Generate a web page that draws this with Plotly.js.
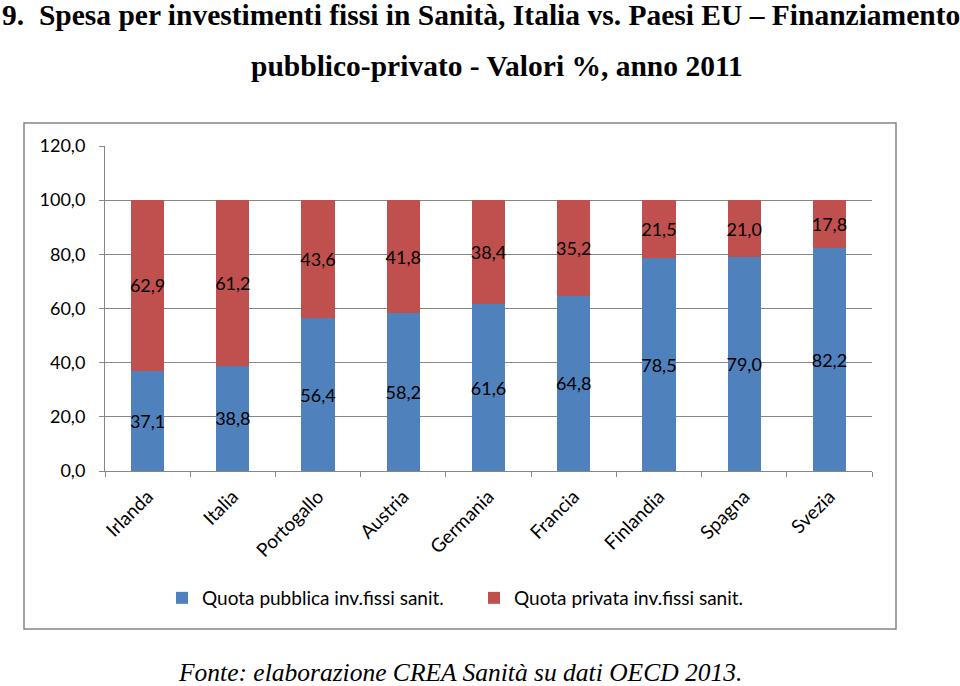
<!DOCTYPE html>
<html>
<head>
<meta charset="utf-8">
<script src="https://cdn.plot.ly/plotly-3.0.1.min.js"></script>
<style>html,body{margin:0;padding:0;background:#fff;}#chart{width:960px;height:686px;}</style>
</head>
<body>
<div id="chart"></div>
<script>
const categories = ["Irlanda","Italia","Portogallo","Austria","Germania","Francia","Finlandia","Spagna","Svezia"];
const quotaPubblica = [37.1, 38.8, 56.4, 58.2, 61.6, 64.8, 78.5, 79.0, 82.2];
const quotaPrivata = [62.9, 61.2, 43.6, 41.8, 38.4, 35.2, 21.5, 21.0, 17.8];
const seriesNames = ["Quota pubblica inv.fissi sanit.", "Quota privata inv.fissi sanit."];
const yTicks = [0, 20, 40, 60, 80, 100, 120];

const fam = "Lato, 'Open Sans', sans-serif";
const dataFont = {family: fam, size: 18, color: "#000"};
const tickFont = {family: fam, size: 18, color: "#000"};
const xFont = {family: fam, size: 19, color: "#000"};
const legFont = {family: fam, size: 19, color: "#000"};
const common = {
  type: "bar", x: categories, texttemplate: "%{y:.1f}", textposition: "inside",
  insidetextanchor: "middle", textangle: 0, textfont: dataFont, hoverinfo: "skip",
  constraintext: "none"
};
const traces = [
  Object.assign({}, common, {name: seriesNames[0], y: quotaPubblica, marker: {color: "#4F81BD"}}),
  Object.assign({}, common, {name: seriesNames[1], y: quotaPrivata, marker: {color: "#C0504D"}})
];

const L = 105, R = 872, T = 146, B = 471;
const pw = R - L, ph = B - T;
const px = v => (v - L) / pw;
const py = v => (B - v) / ph;
const serif = "'Liberation Serif', 'Times New Roman', serif";

const layout = {
  width: 960, height: 686,
  margin: {l: L, r: 960 - R, t: T, b: 686 - B},
  paper_bgcolor: "#fff", plot_bgcolor: "#fff",
  barmode: "stack", bargap: 0.61,
  separators: ",.",
  showlegend: true,
  font: dataFont,
  xaxis: {
    type: "category", tickangle: -45, tickfont: xFont,
    showline: true, linecolor: "#868686", linewidth: 1,
    ticks: "outside", tickson: "boundaries", ticklen: 5, tickcolor: "#868686",
    ticklabelstandoff: 6,
    showgrid: false, fixedrange: true
  },
  yaxis: {
    range: [0, 120], tickvals: yTicks, tickformat: ".1f", tickfont: tickFont,
    showline: true, linecolor: "#868686", linewidth: 1,
    ticks: "outside", ticklen: 5, tickcolor: "#868686",
    ticklabelstandoff: 10,
    showgrid: true, gridcolor: "#868686", gridwidth: 1, zeroline: false,
    fixedrange: true
  },
  legend: {
    orientation: "h", x: px(162), xanchor: "left", y: py(598), yanchor: "middle",
    font: legFont, itemwidth: 30, entrywidth: 267, entrywidthmode: "pixels",
    traceorder: "normal", bgcolor: "rgba(0,0,0,0)"
  },
  shapes: [{
    type: "rect", xref: "paper", yref: "paper",
    x0: px(24), x1: px(896), y0: py(629), y1: py(123),
    line: {color: "#868686", width: 1.5}, layer: "below"
  }],
  annotations: [
    {text: "<b>9.  Spesa per investimenti fissi in Sanità, Italia vs. Paesi EU – Finanziamento</b>",
     xref: "paper", yref: "paper", x: px(0), y: py(15), xanchor: "left", yanchor: "middle",
     showarrow: false, font: {family: serif, size: 29.5, color: "#000"}},
    {text: "<b>pubblico-privato - Valori %, anno 2011</b>",
     xref: "paper", yref: "paper", x: px(497), y: py(66), xanchor: "center", yanchor: "middle",
     showarrow: false, font: {family: serif, size: 29.5, color: "#000"}},
    {text: "<i>Fonte: elaborazione CREA Sanità su dati OECD 2013.</i>",
     xref: "paper", yref: "paper", x: px(460), y: py(672), xanchor: "center", yanchor: "middle",
     showarrow: false, font: {family: serif, size: 25.5, color: "#000"}}
  ]
};

Plotly.newPlot("chart", traces, layout, {displayModeBar: false, staticPlot: true});
</script>
</body>
</html>
